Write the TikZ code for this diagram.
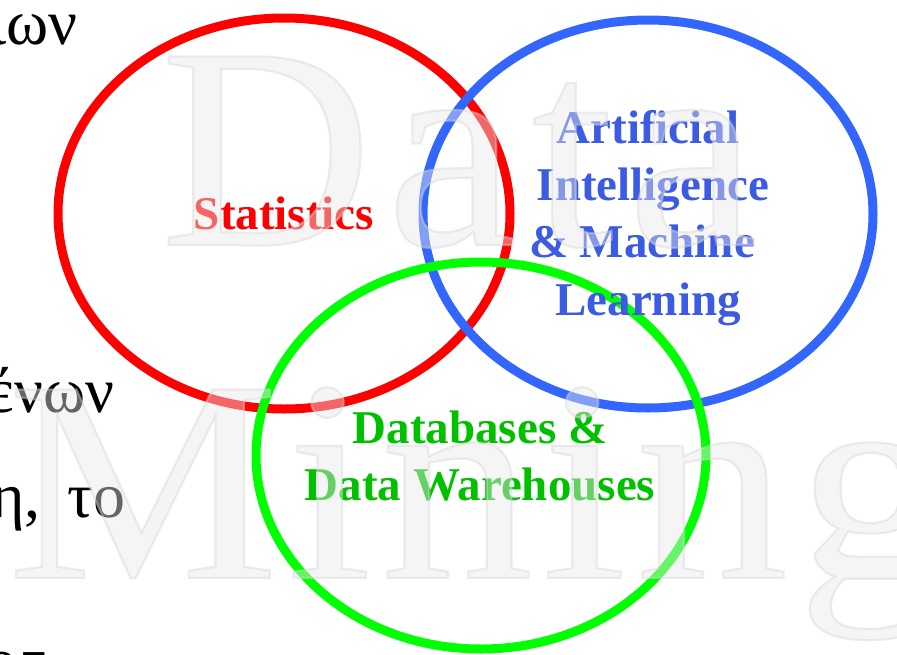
\documentclass[tikz,border=0pt]{standalone}
\usepackage{fontspec}
\setmainfont{Liberation Serif}
\newfontfamily\wmfont[FakeStretch=1.02,LetterSpace=5]{Liberation Serif}
\newfontfamily\wmfontb[FakeStretch=1.06,LetterSpace=3]{Liberation Serif}
\definecolor{redring}{RGB}{255,0,0}
\definecolor{bluering}{RGB}{51,102,255}
\definecolor{greenring}{RGB}{0,255,0}
\definecolor{redtext}{RGB}{255,0,0}
\definecolor{bluetext}{RGB}{59,91,227}
\definecolor{greentext}{RGB}{0,192,0}
\definecolor{wmfill}{RGB}{232,232,232}
\newcommand\outlinedtext[1]{\special{pdf:literal direct 2 Tr 2.2 w 0.84 0.84 0.84 RG}#1\special{pdf:literal direct 0 Tr}}
\begin{document}
\begin{tikzpicture}[x=1pt,y=-1pt,
  ring/.style={line width=9pt},
  label/.style={inner sep=0pt,anchor=base,font=\fontsize{47}{57}\selectfont\bfseries},
  greek/.style={inner sep=0pt,anchor=base west,font=\fontsize{64}{70}\selectfont,text=black},
  watermark/.style={inner sep=0pt,anchor=base west,text=wmfill,text opacity=0.44}]
\useasboundingbox (0,0) rectangle (897,654);
% left-edge text fragments
\node[greek] (g1) at (-11,44) {ιων};
\node[greek] (g2) at (-13,412) {ένων};
\node[greek] (g3) at (-9,517) {η,\, το};
\node[greek] (g4) at (-14,694) {95};
% rings
\draw[ring,redring] (284,213.5) ellipse [x radius=226, y radius=195.5];
\draw[ring,bluering] (648,214) ellipse [x radius=225, y radius=194];
\draw[ring,greenring] (481,455.5) ellipse [x radius=225, y radius=193.5];
% labels
\node[label,text=redtext] (stat) at (284,229) {Statistics};
\node[label,text=bluetext] (ai1) at (648,143) {Artificial};
\node[label,text=bluetext] (ai2) at (653,200) {Intelligence};
\node[label,text=bluetext] (ai3) at (642,257) {\& Machine};
\node[label,text=bluetext] (ai4) at (648,315) {Learning};
\node[label,text=greentext] (db1) at (480,443) {Databases \&};
\node[label,text=greentext] (db2) at (480,500) {Data Warehouses};
% watermark
\node[watermark,font=\wmfont\fontsize{288}{288}\selectfont] (wdata) at (160,245) {\outlinedtext{Data}};
\node[watermark,font=\wmfontb\fontsize{288}{288}\selectfont] (wmining) at (7,578) {\outlinedtext{Mining}};
\end{tikzpicture}
\end{document}
